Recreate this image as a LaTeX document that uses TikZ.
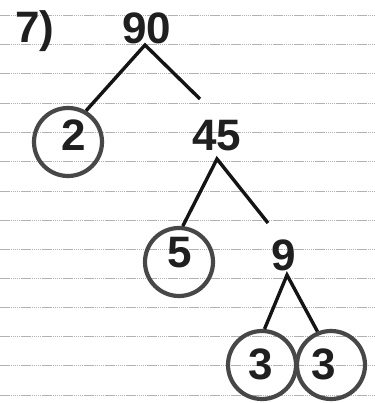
\documentclass[tikz,border=0pt]{standalone}
\usepackage{fontspec}
\setmainfont{Liberation Sans}
\begin{document}
\begin{tikzpicture}[x=1pt,y=-1pt,
  digit/.style={inner sep=0pt, text=black!88, font=\fontsize{44}{44}\selectfont\bfseries},
  ring/.style={circle, draw=black!72, line width=4.2pt, minimum size=68pt, inner sep=0pt},
  branch/.style={line width=3.4pt, black!92},
  rule/.style={line width=1pt, black!30, dash pattern=on 1.5pt off 0.6pt}]
\useasboundingbox (0,0) rectangle (374,403);
\fill[white] (0,0) rectangle (374,403);
% ruled paper
\foreach \y in {16,45,74,104,133,162,191,220,249,278,307,336,365,395}
  \draw[rule] (0,\y) -- (374,\y);
% labels
\node[digit, anchor=base west] (num) at (15,43) {7)};
\node[digit] (n90) at (147,28) {90};
\node[digit] (n45) at (217,136) {45};
\node[digit] (n9) at (284,255) {9};
% circled primes
\node[ring] (c2) at (68,142) {};
\node[digit] (d2) at (74,135) {2};
\node[ring] (c5) at (179,262) {};
\node[digit] (d5) at (180,253) {5};
\node[ring] (c3a) at (262,365) {};
\node[digit] (d3a) at (261,364) {3};
\node[ring] (c3b) at (331,365) {};
\node[digit] (d3b) at (324,364) {3};
% branch points
\coordinate (a90) at (145,45);
\coordinate (e90) at (200,99);
\coordinate (a45) at (217,159);
\coordinate (e45) at (268,223);
\coordinate (a9) at (287,275);
% branches
\draw[branch] (c2.60) -- (a90) -- (e90);
\draw[branch] (c5.84) -- (a45) -- (e45);
\draw[branch] (c3a.86) -- (a9) -- (c3b.112);
\end{tikzpicture}
\end{document}
